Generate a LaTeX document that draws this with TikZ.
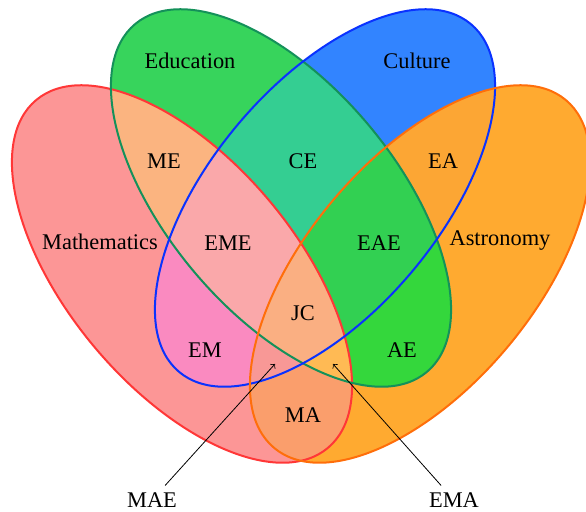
\documentclass[tikz,border=0pt]{standalone}
\usepackage{fontspec}
\setmainfont{Liberation Serif}
\definecolor{mathline}{RGB}{255,55,55}
\definecolor{eduline}{RGB}{20,145,90}
\definecolor{cultline}{RGB}{10,50,255}
\definecolor{astroline}{RGB}{255,110,10}
% one lobe of the diagram, placed by the styles below
\newcommand{\lobe}{(0,0) ellipse (227 and 114)}

\begin{document}
\begin{tikzpicture}[x=0.5pt, y=0.5pt,
  font=\fontsize{11.2}{13.4}\selectfont,
  setM/.style={shift={(182,238)}, rotate=-50},
  setE/.style={shift={(281,314)}, rotate=-50},
  setC/.style={shift={(325,314)}, rotate=50},
  setA/.style={shift={(420,238)}, rotate=50},
  rim/.style={line width=1pt}]

\useasboundingbox (0,0) rectangle (586,512);

% single sets
\fill[setM, fill={rgb,255:red,252;green,150;blue,150}] \lobe;
\fill[setE, fill={rgb,255:red,55;green,212;blue,92}] \lobe;
\fill[setC, fill={rgb,255:red,50;green,132;blue,255}] \lobe;
\fill[setA, fill={rgb,255:red,255;green,170;blue,48}] \lobe;

% pairs
\begin{scope} \clip[setM] \lobe; \fill[setE, fill={rgb,255:red,251;green,180;blue,128}] \lobe; \end{scope}
\begin{scope} \clip[setM] \lobe; \fill[setC, fill={rgb,255:red,250;green,138;blue,192}] \lobe; \end{scope}
\begin{scope} \clip[setM] \lobe; \fill[setA, fill={rgb,255:red,250;green,158;blue,108}] \lobe; \end{scope}
\begin{scope} \clip[setE] \lobe; \fill[setC, fill={rgb,255:red,52;green,206;blue,146}] \lobe; \end{scope}
\begin{scope} \clip[setE] \lobe; \fill[setA, fill={rgb,255:red,52;green,215;blue,60}] \lobe; \end{scope}
\begin{scope} \clip[setC] \lobe; \fill[setA, fill={rgb,255:red,252;green,166;blue,52}] \lobe; \end{scope}

% triples
\begin{scope} \clip[setM] \lobe; \clip[setE] \lobe; \fill[setC, fill={rgb,255:red,250;green,168;blue,170}] \lobe; \end{scope}
\begin{scope} \clip[setM] \lobe; \clip[setE] \lobe; \fill[setA, fill={rgb,255:red,255;green,186;blue,84}] \lobe; \end{scope}
\begin{scope} \clip[setM] \lobe; \clip[setC] \lobe; \fill[setA, fill={rgb,255:red,248;green,152;blue,150}] \lobe; \end{scope}
\begin{scope} \clip[setE] \lobe; \clip[setC] \lobe; \fill[setA, fill={rgb,255:red,50;green,208;blue,82}] \lobe; \end{scope}

% all four
\begin{scope} \clip[setM] \lobe; \clip[setE] \lobe; \clip[setC] \lobe;
  \fill[setA, fill={rgb,255:red,250;green,175;blue,130}] \lobe; \end{scope}

\draw[rim, mathline, setM] \lobe;
\draw[rim, eduline, setE] \lobe;
\draw[rim, cultline, setC] \lobe;
\draw[rim, astroline, setA] \lobe;

\node (edu) at (190,451) {Education};
\node (cult) at (417,451) {Culture};
\node (math) at (100,270) {Mathematics};
\node (astro) at (500,271) {Astronomy};

\node (me) at (164,351) {ME};
\node (ce) at (303,351) {CE};
\node (ea) at (443,351) {EA};
\node (eme) at (228,269) {EME};
\node (eae) at (379,269) {EAE};
\node (jc) at (303,199) {JC};
\node (em) at (205,162) {EM};
\node (ae) at (402,162) {AE};
\node (ma) at (303,97) {MA};

\node (mae) at (152,12) {MAE};
\node (ema) at (454,12) {EMA};
\coordinate (maetip) at (275,148);
\coordinate (ematip) at (333,148);
\draw[->] (mae) -- (maetip);
\draw[->] (ema) -- (ematip);

\end{tikzpicture}
\end{document}
